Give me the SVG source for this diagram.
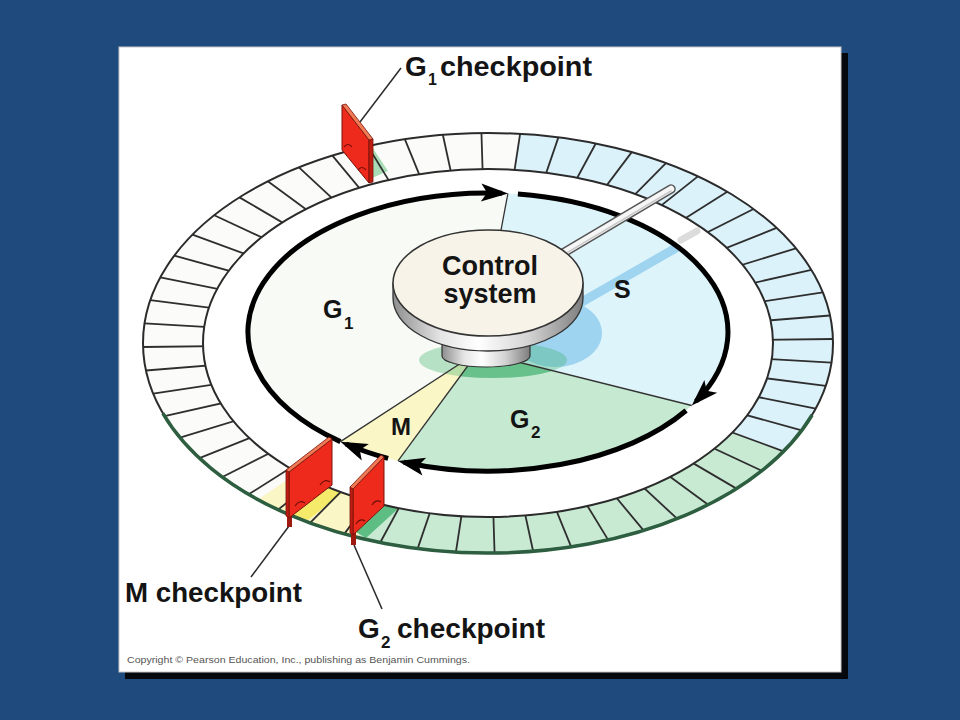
<svg xmlns="http://www.w3.org/2000/svg" width="960" height="720" viewBox="0 0 960 720">
<defs>
<style>
.t{font-family:"Liberation Sans",Arial,Helvetica,sans-serif;font-weight:bold;fill:#141414}
.seg line{stroke:#2e2e2e;stroke-width:1.8;vector-effect:non-scaling-stroke}
.sl{stroke:#333;stroke-width:1.3;fill:none}
.arc{stroke:#000;stroke-width:5;fill:none;marker-end:url(#ah)}
.lead{stroke:#2a2a2a;stroke-width:1.5;fill:none}
.face{fill:#ee2a1c;stroke:#7a1208;stroke-width:1}
.top{fill:#ef7a55;stroke:#7a1208;stroke-width:0.8}
.side{fill:#c01d12;stroke:#7a1208;stroke-width:0.8}
.tab{fill:none;stroke:#6b0d08;stroke-width:1.2}
.peg{fill:#9e1a10}
</style>
<linearGradient id="metal" x1="0" y1="0" x2="1" y2="0">
<stop offset="0" stop-color="#8e8e8e"/>
<stop offset="0.25" stop-color="#e4e4e4"/>
<stop offset="0.45" stop-color="#ffffff"/>
<stop offset="0.72" stop-color="#d2d2d2"/>
<stop offset="1" stop-color="#7d7d7d"/>
</linearGradient>
<marker id="ah" markerUnits="userSpaceOnUse" orient="auto" overflow="visible" markerWidth="30" markerHeight="30" refX="0" refY="0">
<path d="M6,0 L-21,-9 L-15,0 L-21,9 Z" fill="#000"/>
</marker>
<clipPath id="clipS"><path d="M478,352 L507.9,193.5 A240,139 0 0,1 691.7,405.5 Z"/></clipPath>
<clipPath id="clipG2"><path d="M478,352 L691.7,405.5 A240,139 0 0,1 398.0,460.9 Z"/></clipPath>
</defs>

<rect width="960" height="720" fill="#1f4a7d"/>
<rect x="125" y="53" width="723" height="626" fill="#05080d"/>
<rect x="119" y="47" width="722" height="625" fill="#ffffff" stroke="#c8c8c8" stroke-width="1"/>

<g id="ring">
<ellipse cx="488" cy="343" rx="345" ry="210" fill="#fbfcf9"/>
<path fill="#dcf2fa" d="M488,343 L520.3,133.9 A345,210 0 0,1 783.6,451.3 Z"/>
<path fill="#c8ead3" d="M488,343 L783.6,451.3 A345,210 0 0,1 357.0,537.3 Z"/>
<path fill="#fbf6c6" d="M488,343 L357.0,537.3 A345,210 0 0,1 258.1,499.6 Z"/>
<polygon fill="#f5ea6a" points="292,515 333,485 350,487 308,520"/>
<polygon fill="#5dbd82" points="356,532 385,505 400,507 366,538"/>
<polygon fill="#a8dcb4" points="372,147 372,178 388,171"/>
<g class="seg" transform="translate(488 343) scale(345 210)">
<line x2="1" transform="rotate(-91.09)"/><line x2="1" transform="rotate(-84.66)"/><line x2="1" transform="rotate(-78.23)"/><line x2="1" transform="rotate(-71.80)"/>
<line x2="1" transform="rotate(-65.38)"/><line x2="1" transform="rotate(-58.95)"/><line x2="1" transform="rotate(-52.52)"/><line x2="1" transform="rotate(-46.09)"/>
<line x2="1" transform="rotate(-39.66)"/><line x2="1" transform="rotate(-33.23)"/><line x2="1" transform="rotate(-26.80)"/><line x2="1" transform="rotate(-20.38)"/>
<line x2="1" transform="rotate(-13.95)"/><line x2="1" transform="rotate(-7.52)"/><line x2="1" transform="rotate(-1.09)"/><line x2="1" transform="rotate(5.34)"/>
<line x2="1" transform="rotate(11.77)"/><line x2="1" transform="rotate(18.20)"/><line x2="1" transform="rotate(24.62)"/><line x2="1" transform="rotate(31.05)"/>
<line x2="1" transform="rotate(37.48)"/><line x2="1" transform="rotate(43.91)"/><line x2="1" transform="rotate(50.34)"/><line x2="1" transform="rotate(56.77)"/>
<line x2="1" transform="rotate(63.20)"/><line x2="1" transform="rotate(69.62)"/><line x2="1" transform="rotate(76.05)"/><line x2="1" transform="rotate(82.48)"/>
<line x2="1" transform="rotate(88.91)"/><line x2="1" transform="rotate(95.34)"/><line x2="1" transform="rotate(101.77)"/><line x2="1" transform="rotate(108.20)"/>
<line x2="1" transform="rotate(114.62)"/><line x2="1" transform="rotate(121.05)"/><line x2="1" transform="rotate(127.48)"/><line x2="1" transform="rotate(133.91)"/>
<line x2="1" transform="rotate(140.34)"/><line x2="1" transform="rotate(146.77)"/><line x2="1" transform="rotate(153.20)"/><line x2="1" transform="rotate(159.62)"/>
<line x2="1" transform="rotate(166.05)"/><line x2="1" transform="rotate(172.48)"/><line x2="1" transform="rotate(178.91)"/><line x2="1" transform="rotate(185.34)"/>
<line x2="1" transform="rotate(191.77)"/><line x2="1" transform="rotate(198.20)"/><line x2="1" transform="rotate(204.62)"/><line x2="1" transform="rotate(211.05)"/>
<line x2="1" transform="rotate(217.48)"/><line x2="1" transform="rotate(223.91)"/><line x2="1" transform="rotate(230.34)"/><line x2="1" transform="rotate(236.77)"/>
<line x2="1" transform="rotate(243.20)"/><line x2="1" transform="rotate(249.62)"/><line x2="1" transform="rotate(256.05)"/><line x2="1" transform="rotate(262.48)"/>
</g>
<ellipse cx="488" cy="343" rx="345" ry="210" fill="none" stroke="#2b2b2b" stroke-width="2"/>
<path d="M812.1,415 A345,210 0 0,1 162.9,413.4" fill="none" stroke="#2d5e3f" stroke-width="3.5"/>
<ellipse cx="488" cy="343" rx="285" ry="174" fill="#ffffff" stroke="#2b2b2b" stroke-width="2"/>
<line x1="681" y1="240" x2="697" y2="231" stroke="#dcdcdc" stroke-width="7" stroke-linecap="round"/>
</g>

<g id="sectors">
<path id="sec-G1" fill="#f7faf5" d="M478,352 L340.4,441.6 A240,139 0 0,1 507.9,193.5 Z"/>
<path id="sec-S" fill="#def4fb" d="M478,352 L507.9,193.5 A240,139 0 0,1 691.7,405.5 Z"/>
<path id="sec-G2" fill="#c6ead1" d="M478,352 L691.7,405.5 A240,139 0 0,1 398.0,460.9 Z"/>
<path id="sec-M" fill="#fbf6c6" d="M478,352 L398.0,460.9 A240,139 0 0,1 340.4,441.6 Z"/>
<g clip-path="url(#clipS)">
<ellipse cx="555" cy="333" rx="47" ry="34" fill="#9ed4f0"/>
<line x1="580" y1="303" x2="702" y2="233" stroke="#9ed4f0" stroke-width="9"/>
</g>
<ellipse cx="493" cy="360" rx="74" ry="18" fill="#3fb26c" fill-opacity="0.35"/>
<ellipse cx="493" cy="360" rx="74" ry="18" fill="#2fa85f" fill-opacity="0.45" clip-path="url(#clipG2)"/>
<line class="sl" x1="478" y1="352" x2="507.9" y2="193.5"/>
<line class="sl" x1="478" y1="352" x2="691.7" y2="405.5"/>
<line class="sl" x1="478" y1="352" x2="398.0" y2="460.9"/>
<line class="sl" x1="478" y1="352" x2="340.4" y2="441.6"/>
</g>

<g id="connectors">
<path class="arc" d="M340.4,441.6 A240,139 0 0,1 502.1,193.2"/>
<path class="arc" d="M517.9,194.1 A240,139 0 0,1 696.0,401.3"/>
<path class="arc" d="M686.1,410.5 A240,139 0 0,1 403.8,462.2"/>
<path class="arc" d="M388.1,458.4 A240,139 0 0,1 346.0,444.0"/>
<line class="lead" x1="360" y1="122" x2="401" y2="68"/>
<line class="lead" x1="251" y1="577" x2="289" y2="526"/>
<line class="lead" x1="382" y1="609" x2="354" y2="545"/>
</g>

<g id="control-system">
<line x1="548" y1="262" x2="671" y2="189" stroke="#555" stroke-width="9.5" stroke-linecap="round"/>
<line x1="548" y1="262" x2="671" y2="189" stroke="#f6f6f6" stroke-width="6.5" stroke-linecap="round"/>
<line x1="548" y1="264" x2="671" y2="191" stroke="#c9c9c9" stroke-width="1.5" stroke-linecap="round"/>
<path d="M442,330 L442,356 A44,11 0 0,0 530,356 L530,330 Z" fill="url(#metal)" stroke="#333" stroke-width="1.2"/>
<path d="M393,283 L393,298 A95,53 0 0,0 583,298 L583,283 Z" fill="url(#metal)" stroke="#333" stroke-width="1.3"/>
<ellipse cx="488" cy="283" rx="95" ry="53" fill="#f7f3e8" stroke="#333" stroke-width="1.5"/>
<text class="t" x="490" y="275" font-size="27" text-anchor="middle">Control</text>
<text class="t" x="490" y="303" font-size="27" text-anchor="middle">system</text>
</g>

<g id="phase-labels">
<text class="t" x="323" y="318" font-size="25">G</text><text class="t" x="344" y="329" font-size="17">1</text>
<text class="t" x="614" y="298" font-size="25">S</text>
<text class="t" x="391" y="435" font-size="24">M</text>
<text class="t" x="510" y="428" font-size="25">G</text><text class="t" x="531" y="438" font-size="17">2</text>
</g>

<g id="g1-checkpoint">
<polygon class="face" points="342,105 369,140 369,183 342,150"/>
<polygon class="side" points="369,140 373,139 373,182 369,183"/>
<polygon class="top" points="342,105 369,140 373,139 346,104"/>
<path class="tab" d="M344,147 q4,-5 8,0 M358,170 q4,-5 8,0"/>
<text class="t" x="405" y="76" font-size="28">G</text>
<text class="t" x="428" y="85" font-size="16">1</text>
<text class="t" x="440" y="76" font-size="28" textLength="152" lengthAdjust="spacingAndGlyphs">checkpoint</text>
</g>

<g id="m-checkpoint">
<rect class="peg" x="287" y="515" width="5" height="12"/>
<polygon class="face" points="289,472 332,439 332,485 289,518"/>
<polygon class="side" points="289,472 286,470 286,516 289,518"/>
<polygon class="top" points="289,472 332,439 329,437 286,470"/>
<path class="tab" d="M295,506 q5,-7 10,-3 M320,485 q5,-7 10,-3"/>
<text class="t" x="125" y="602" font-size="28" textLength="177" lengthAdjust="spacingAndGlyphs">M checkpoint</text>
</g>

<g id="g2-checkpoint">
<rect class="peg" x="351" y="532" width="5" height="13"/>
<polygon class="face" points="353,489 384,457 384,506 353,535"/>
<polygon class="side" points="353,489 350,487 350,533 353,535"/>
<polygon class="top" points="353,489 384,457 381,455 350,487"/>
<path class="tab" d="M356,524 q4,-6 9,-3 M372,505 q4,-6 9,-3"/>
<text class="t" x="358" y="638" font-size="28">G</text>
<text class="t" x="381" y="648" font-size="17">2</text>
<text class="t" x="397" y="638" font-size="28" textLength="148" lengthAdjust="spacingAndGlyphs">checkpoint</text>
</g>

<text x="127" y="663" font-family="Liberation Sans, Arial, sans-serif" font-size="9.5" fill="#555" textLength="343" lengthAdjust="spacingAndGlyphs">Copyright © Pearson Education, Inc., publishing as Benjamin Cummings.</text>
</svg>
